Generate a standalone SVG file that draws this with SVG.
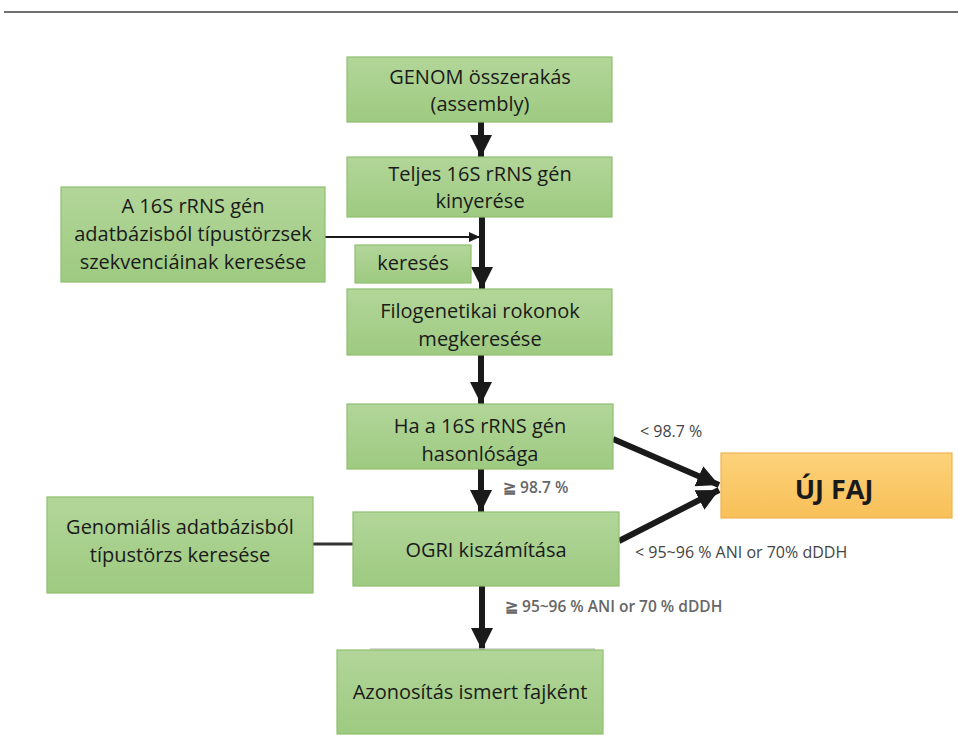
<svg xmlns="http://www.w3.org/2000/svg" width="958" height="742" viewBox="0 0 958 742">
<defs>
<linearGradient id="g" x1="0" y1="0" x2="0" y2="1">
<stop offset="0" stop-color="#B2D699"/>
<stop offset="1" stop-color="#9ECA81"/>
</linearGradient>
<linearGradient id="o" x1="0" y1="0" x2="0" y2="1">
<stop offset="0" stop-color="#FCD27A"/>
<stop offset="1" stop-color="#F8C058"/>
</linearGradient>
<marker id="ah" markerUnits="userSpaceOnUse" markerWidth="24" markerHeight="24" viewBox="0 0 24 24" refX="22" refY="12" orient="auto">
<path d="M0,1 L22,12 L0,23 Z" fill="#1a1a1a"/>
</marker>
<marker id="ahs" markerUnits="userSpaceOnUse" markerWidth="12" markerHeight="12" viewBox="0 0 12 12" refX="11" refY="6" orient="auto">
<path d="M0,1 L11,6 L0,11 Z" fill="#1a1a1a"/>
</marker>
<style>
.box{fill:url(#g);stroke:#8FBE70;stroke-width:1.2}
.t{font-family:"Open Sans","Liberation Sans",sans-serif;font-size:20px;fill:#1a1a1a;text-anchor:middle}
.lab{font-family:"Open Sans","Liberation Sans",sans-serif;font-size:16px;fill:#444}
.lab2{font-family:"Open Sans","Liberation Sans",sans-serif;font-size:15.5px;fill:#666;font-weight:600}
.thick{stroke:#1a1a1a;stroke-width:6;fill:none;marker-end:url(#ah)}
</style>
</defs>
<rect width="958" height="742" fill="#ffffff"/>
<line x1="4" y1="12" x2="958" y2="12" stroke="#707070" stroke-width="2"/>

<g id="connectors">
<line class="thick" x1="481" y1="122" x2="481" y2="157"/>
<line class="thick" x1="482" y1="217" x2="482" y2="289"/>
<line x1="325" y1="237" x2="480" y2="237" stroke="#1a1a1a" stroke-width="2" marker-end="url(#ahs)"/>
<line class="thick" x1="481" y1="355" x2="481" y2="404"/>
<line class="thick" x1="481" y1="469" x2="481" y2="512"/>
<line class="thick" x1="613" y1="439" x2="719" y2="485"/>
<line class="thick" x1="619" y1="541" x2="719" y2="490"/>
<line x1="313" y1="544" x2="353" y2="544" stroke="#333" stroke-width="3"/>
<line class="thick" x1="482" y1="586" x2="482" y2="650"/>
<line x1="370" y1="649" x2="595" y2="649" stroke="#C8CCC8" stroke-width="1.5"/>
</g>

<g id="n-genom">
<rect class="box" x="347" y="57" width="265" height="65"/>
<text class="t" x="480" y="84">GENOM összerakás</text>
<text class="t" x="480" y="111">(assembly)</text>
</g>
<g id="n-teljes">
<rect class="box" x="347" y="157" width="265" height="60"/>
<text class="t" x="480" y="181">Teljes 16S rRNS gén</text>
<text class="t" x="480" y="208">kinyerése</text>
</g>
<g id="n-adatbazis">
<rect class="box" x="61" y="187" width="264" height="95"/>
<text class="t" x="193" y="213">A 16S rRNS gén</text>
<text class="t" x="193" y="241">adatbázisból típustörzsek</text>
<text class="t" x="193" y="269">szekvenciáinak keresése</text>
</g>
<g id="n-kereses">
<rect class="box" x="355" y="245" width="116" height="38"/>
<text class="t" x="413" y="270">keresés</text>
</g>
<g id="n-filogenetikai">
<rect class="box" x="347" y="289" width="265" height="66"/>
<text class="t" x="480" y="318">Filogenetikai rokonok</text>
<text class="t" x="480" y="346">megkeresése</text>
</g>
<g id="n-ha">
<rect class="box" x="347" y="404" width="266" height="65"/>
<text class="t" x="480" y="433">Ha a 16S rRNS gén</text>
<text class="t" x="480" y="461">hasonlósága</text>
</g>
<g id="n-ogri">
<rect class="box" x="353" y="512" width="266" height="74"/>
<text class="t" x="486" y="557">OGRI kiszámítása</text>
</g>
<g id="n-genomialis">
<rect class="box" x="47" y="497" width="266" height="96"/>
<text class="t" x="180" y="534">Genomiális adatbázisból</text>
<text class="t" x="180" y="562">típustörzs keresése</text>
</g>
<g id="n-azonositas">
<rect class="box" x="337" y="650" width="266" height="84"/>
<text class="t" x="470" y="699">Azonosítás ismert fajként</text>
</g>
<g id="n-ujfaj">
<rect x="721" y="453" width="231" height="65" fill="url(#o)" stroke="#EEB450" stroke-width="1.2"/>
<text x="834" y="499" font-family="'Open Sans','Liberation Sans',sans-serif" font-size="27" font-weight="bold" fill="#1a1a1a" text-anchor="middle">ÚJ FAJ</text>
</g>

<g id="labels">
<text class="lab" x="640" y="437">&lt; 98.7 %</text>
<text class="lab" x="635" y="558">&lt; 95~96 % ANI or 70% dDDH</text>
<text class="lab2" x="503" y="493">≧ 98.7 %</text>
<text class="lab2" x="505" y="612">≧ 95~96 % ANI or 70 % dDDH</text>
</g>
</svg>
